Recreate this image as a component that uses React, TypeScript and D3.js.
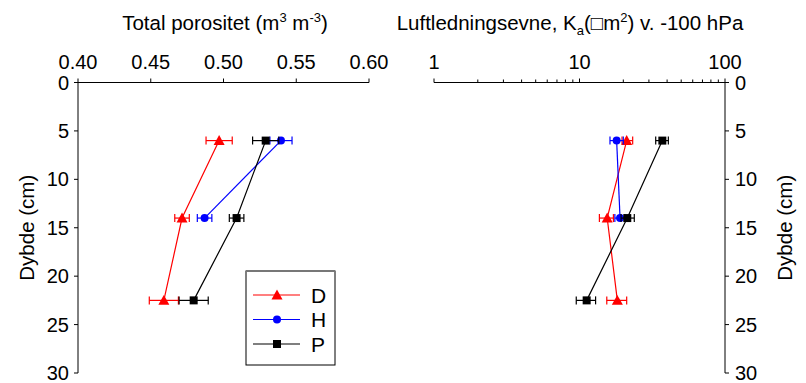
import * as d3 from 'd3';
import React from 'react';

// depth (cm) of each sampling layer
const depthD = [6, 14, 22.5];
const depthH = [6, 14];
const depthP = [6, 14, 22.5];

// total porosity (m3 m-3) and standard error
const poroD = [0.497, 0.4715, 0.459];
const poroDErr = [0.009, 0.005, 0.01];
const poroH = [0.5395, 0.487];
const poroHErr = [0.0076, 0.005];
const poroP = [0.529, 0.509, 0.4795];
const poroPErr = [0.009, 0.005, 0.01];

// air permeability Ka (um2) at -100 hPa, with low/high error ends
const kaD = [21.1, 15.5, 18.2];
const kaDLo = [19.6, 13.7, 15.4];
const kaDHi = [23.2, 17.1, 21.1];
const kaH = [18.0, 19.0];
const kaHLo = [16.2, 17.5];
const kaHHi = [20.0, 20.5];
const kaP = [37.1, 21.3, 11.2];
const kaPLo = [33.4, 19.3, 9.5];
const kaPHi = [40.8, 23.8, 12.9];

const poroTicks = [0.4, 0.45, 0.5, 0.55, 0.6];
const kaTicks = [1, 10, 100];
const depthTicks = [0, 5, 10, 15, 20, 25, 30];

const font = 'Arial, "Liberation Sans", sans-serif';

function Marker({ kind, x, y, color }) {
  if (kind === 'tri') {
    const s = 5.5;
    return <path d={`M${x},${y - s}L${x + s},${y + s * 0.8}L${x - s},${y + s * 0.8}Z`} fill={color} />;
  }
  if (kind === 'circ') return <circle cx={x} cy={y} r={4} fill={color} />;
  return <rect x={x - 4} y={y - 4} width={8} height={8} fill={color} />;
}

function ErrBar({ x1, x2, y, color }) {
  return (
    <g stroke={color} strokeWidth={1.2}>
      <line x1={x1} x2={x2} y1={y} y2={y} />
      <line x1={x1} x2={x1} y1={y - 4} y2={y + 4} />
      <line x1={x2} x2={x2} y1={y - 4} y2={y + 4} />
    </g>
  );
}

export default function App() {
  const yScale = d3.scaleLinear().domain([0, 30]).range([82.5, 373]);
  const xPoro = d3.scaleLinear().domain([0.4, 0.6]).range([78, 369]);
  const xKa = d3.scaleLog().domain([1, 100]).range([434, 725]);

  const poroSeries = [
    { kind: 'tri', color: '#ff0000', depth: depthD, v: poroD, lo: poroD.map((d, i) => d - poroDErr[i]), hi: poroD.map((d, i) => d + poroDErr[i]) },
    { kind: 'circ', color: '#0000ff', depth: depthH, v: poroH, lo: poroH.map((d, i) => d - poroHErr[i]), hi: poroH.map((d, i) => d + poroHErr[i]) },
    { kind: 'sq', color: '#000000', depth: depthP, v: poroP, lo: poroP.map((d, i) => d - poroPErr[i]), hi: poroP.map((d, i) => d + poroPErr[i]) },
  ];
  const kaSeries = [
    { kind: 'tri', color: '#ff0000', depth: depthD, v: kaD, lo: kaDLo, hi: kaDHi },
    { kind: 'circ', color: '#0000ff', depth: depthH, v: kaH, lo: kaHLo, hi: kaHHi },
    { kind: 'sq', color: '#000000', depth: depthP, v: kaP, lo: kaPLo, hi: kaPHi },
  ];

  const drawSeries = (series, xs) =>
    series.map((s) => {
      const line = d3
        .line()
        .x((d) => xs(d[0]))
        .y((d) => yScale(d[1]));
      const pts = s.v.map((v, i) => [v, s.depth[i]]);
      return (
        <g key={s.kind}>
          <path d={line(pts)} fill="none" stroke={s.color} strokeWidth={1.2} />
          {pts.map((p, i) => (
            <ErrBar key={'e' + i} x1={xs(s.lo[i])} x2={xs(s.hi[i])} y={yScale(p[1])} color={s.color} />
          ))}
          {pts.map((p, i) => (
            <Marker key={'m' + i} kind={s.kind} x={xs(p[0])} y={yScale(p[1])} color={s.color} />
          ))}
        </g>
      );
    });

  const kaMinor = [];
  [1, 10].forEach((dec) => {
    for (let k = 2; k <= 9; k++) kaMinor.push(dec * k);
  });

  const legend = [
    { kind: 'tri', color: '#ff0000', label: 'D' },
    { kind: 'circ', color: '#0000ff', label: 'H' },
    { kind: 'sq', color: '#000000', label: 'P' },
  ];

  return (
    <svg width={806} height={383} style={{ position: 'absolute', left: 0, top: 0 }} fontFamily={font}>
      <rect width={806} height={383} fill="#fff" />

      {/* left panel axes */}
      <g stroke="#000" strokeWidth={1}>
        <line x1={xPoro(0.4)} x2={xPoro(0.6)} y1={yScale(0)} y2={yScale(0)} />
        <line x1={xPoro(0.4)} x2={xPoro(0.4)} y1={yScale(0)} y2={yScale(30)} />
        {poroTicks.map((t) => (
          <line key={t} x1={xPoro(t)} x2={xPoro(t)} y1={yScale(0)} y2={yScale(0) - 4} />
        ))}
        {depthTicks.map((t) => (
          <line key={t} x1={xPoro(0.4)} x2={xPoro(0.4) - 4} y1={yScale(t)} y2={yScale(t)} />
        ))}
      </g>
      <g fontSize={20} fill="#000">
        {poroTicks.map((t) => (
          <text key={t} x={xPoro(t)} y={69} textAnchor="middle">
            {d3.format('.2f')(t)}
          </text>
        ))}
        {depthTicks.map((t) => (
          <text key={t} x={69} y={yScale(t) + 7} textAnchor="end">
            {t}
          </text>
        ))}
        <text x={225} y={30} textAnchor="middle" fontSize={20.5}>
          Total porositet (m<tspan dy={-8} fontSize={13}>3</tspan>
          <tspan dy={8}> m</tspan>
          <tspan dy={-8} fontSize={13}>-3</tspan>
          <tspan dy={8}>)</tspan>
        </text>
        <text transform={`translate(34,${yScale(15)}) rotate(-90)`} textAnchor="middle" fontSize={20.5}>
          Dybde (cm)
        </text>
      </g>

      {/* right panel axes */}
      <g stroke="#000" strokeWidth={1}>
        <line x1={xKa(1)} x2={xKa(100)} y1={yScale(0)} y2={yScale(0)} />
        <line x1={xKa(100)} x2={xKa(100)} y1={yScale(0)} y2={yScale(30)} />
        {kaTicks.map((t) => (
          <line key={t} x1={xKa(t)} x2={xKa(t)} y1={yScale(0)} y2={yScale(0) - 4} />
        ))}
        {kaMinor.map((t) => (
          <line key={t} x1={xKa(t)} x2={xKa(t)} y1={yScale(0)} y2={yScale(0) - 3} />
        ))}
        {depthTicks.map((t) => (
          <line key={t} x1={xKa(100)} x2={xKa(100) + 4} y1={yScale(t)} y2={yScale(t)} />
        ))}
      </g>
      <g fontSize={20} fill="#000">
        {kaTicks.map((t) => (
          <text key={t} x={xKa(t)} y={69} textAnchor="middle">
            {t}
          </text>
        ))}
        {depthTicks.map((t) => (
          <text key={t} x={735} y={yScale(t) + 7} textAnchor="start">
            {t}
          </text>
        ))}
        <text x={570} y={30} textAnchor="middle" fontSize={20.5}>
          Luftledningsevne, K<tspan dy={5} fontSize={13}>a</tspan>
          <tspan dy={-5}>({'\u25A1'}m</tspan>
          <tspan dy={-8} fontSize={13}>2</tspan>
          <tspan dy={8}>) v. -100 hPa</tspan>
        </text>
        <text transform={`translate(792,${yScale(15)}) rotate(-90)`} textAnchor="middle" fontSize={20.5}>
          Dybde (cm)
        </text>
      </g>

      {drawSeries(poroSeries, xPoro)}
      {drawSeries(kaSeries, xKa)}

      {/* legend */}
      <rect x={246} y={271} width={89} height={94} fill="#fff" stroke="#000" strokeWidth={1} />
      <line x1={246} x2={335} y1={271} y2={271} stroke="#777" strokeWidth={2} />
      {legend.map((l, i) => {
        const y = 295 + i * 24.5;
        return (
          <g key={l.label}>
            <line x1={253} x2={300} y1={y} y2={y} stroke={l.color} strokeWidth={1.2} />
            <Marker kind={l.kind} x={277} y={y} color={l.color} />
            <text x={311} y={y + 7.5} fontSize={21}>
              {l.label}
            </text>
          </g>
        );
      })}
    </svg>
  );
}
